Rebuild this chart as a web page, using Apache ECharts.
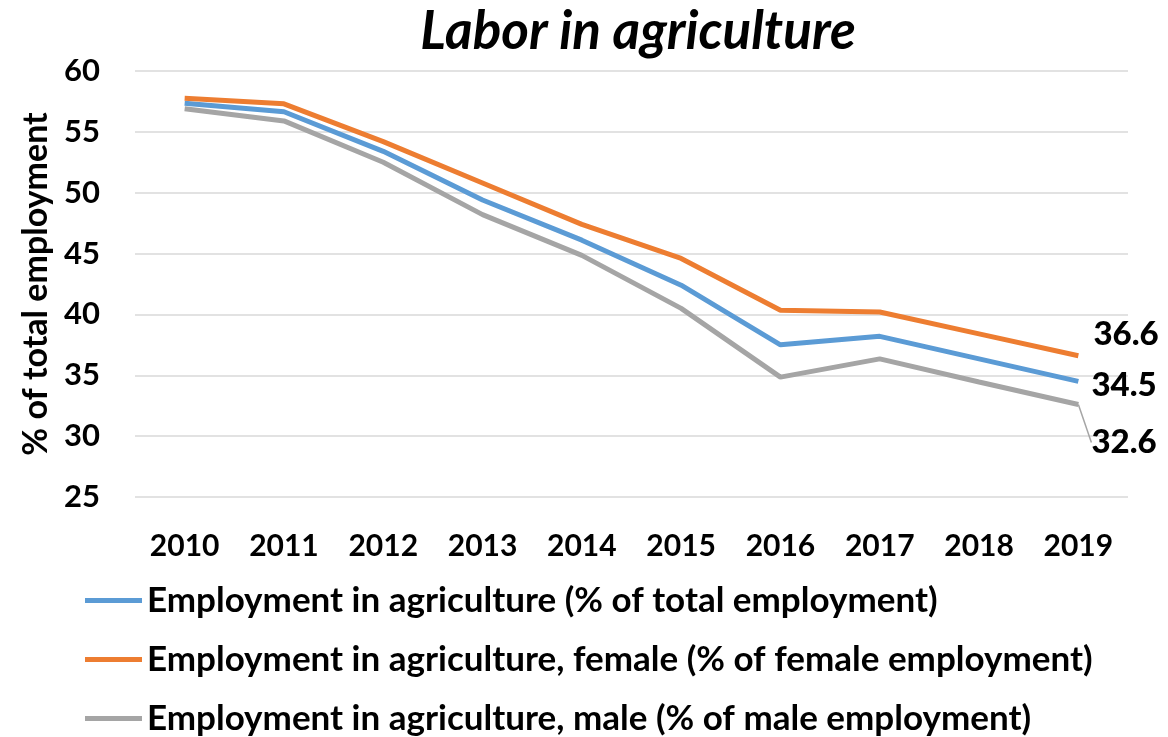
<!DOCTYPE html>
<html>
<head>
<meta charset="utf-8">
<script src="https://cdn.jsdelivr.net/npm/echarts@6/dist/echarts.min.js"></script>
<style>
html,body{margin:0;padding:0;background:#fff;}
#chart{width:1168px;height:737px;}
</style>
</head>
<body>
<div id="chart"></div>
<script>
var years = ['2010','2011','2012','2013','2014','2015','2016','2017','2018','2019'];
var totalEmp = [57.35, 56.65, 53.4, 49.4, 46.1, 42.4, 37.5, 38.2, 36.35, 34.5];
var femaleEmp = [57.76, 57.3, 54.2, 50.8, 47.4, 44.6, 40.35, 40.2, 38.4, 36.6];
var maleEmp = [56.9, 55.9, 52.5, 48.2, 44.85, 40.5, 34.85, 36.35, 34.45, 32.6];
var seriesNames = [
  'Employment in agriculture (% of total employment)',
  'Employment in agriculture, female (% of female employment)',
  'Employment in agriculture, male (% of male employment)'
];
var endLabels = ['34.5', '36.6', '32.6'];

var FONT = 'Lato';
function lastLabelData(arr, labelText) {
  return arr.map(function (v, i) {
    if (i === arr.length - 1) {
      return { value: v, label: { show: true, formatter: labelText, fontWeight: 900, fontFamily: FONT, fontSize: 33, color: '#000' } };
    }
    return v;
  });
}
var chart = echarts.init(document.getElementById('chart'));
var labelStyle = { show: false, position: 'right', distance: 5, color: '#000', fontFamily: FONT, fontWeight: 900, fontSize: 33 };
chart.setOption({
  animation: false,
  title: {
    text: 'Labor in agriculture',
    left: 633, top: 0, textAlign: 'center',
    textStyle: { fontFamily: FONT, fontStyle: 'italic', fontWeight: 'bold', fontSize: 53, color: '#000' }
  },
  grid: { left: 135, right: 40, top: 71, bottom: 240 },
  legend: {
    orient: 'vertical', left: 85, top: 583, padding: 0,
    icon: 'rect', itemWidth: 57, itemHeight: 5, itemGap: 24,
    textStyle: { fontFamily: FONT, fontWeight: 'bold', fontSize: 35, color: '#000', lineHeight: 34 },
    data: seriesNames
  },
  xAxis: {
    type: 'category', data: years, boundaryGap: true,
    axisLine: { show: false }, axisTick: { show: false },
    axisLabel: { margin: 34, color: '#000', fontFamily: FONT, fontWeight: 'bold', fontSize: 30 }
  },
  yAxis: {
    type: 'value', min: 25, max: 60, interval: 5,
    name: '% of total employment', nameLocation: 'middle', nameGap: 82, nameRotate: 90,
    nameTextStyle: { fontFamily: FONT, fontWeight: 'bold', fontSize: 34, color: '#000' },
    axisLine: { show: false }, axisTick: { show: false },
    axisLabel: { margin: 35, color: '#000', fontFamily: FONT, fontWeight: 'bold', fontSize: 31 },
    splitLine: { lineStyle: { color: '#D9D9D9', width: 1.5 } }
  },
  series: [
    { name: seriesNames[0], type: 'line', data: lastLabelData(totalEmp, endLabels[0]),
      symbol: 'circle', symbolSize: 0.1, showSymbol: true,
      lineStyle: { color: '#5B9BD5', width: 5 }, itemStyle: { color: '#5B9BD5' },
      label: labelStyle, labelLayout: { dx: 8, dy: 4 } },
    { name: seriesNames[1], type: 'line', data: lastLabelData(femaleEmp, endLabels[1]),
      symbol: 'circle', symbolSize: 0.1, showSymbol: true,
      lineStyle: { color: '#ED7D31', width: 5 }, itemStyle: { color: '#ED7D31' },
      label: labelStyle, labelLayout: { dx: 10, dy: -21 } },
    { name: seriesNames[2], type: 'line', data: lastLabelData(maleEmp, endLabels[2]),
      symbol: 'circle', symbolSize: 0.1, showSymbol: true,
      lineStyle: { color: '#A5A5A5', width: 5 }, itemStyle: { color: '#A5A5A5' },
      label: labelStyle, labelLayout: { dx: 8, dy: 38 },
      labelLine: { show: true, lineStyle: { color: '#A5A5A5', width: 1.5 } } }
  ]
});
</script>
</body>
</html>
